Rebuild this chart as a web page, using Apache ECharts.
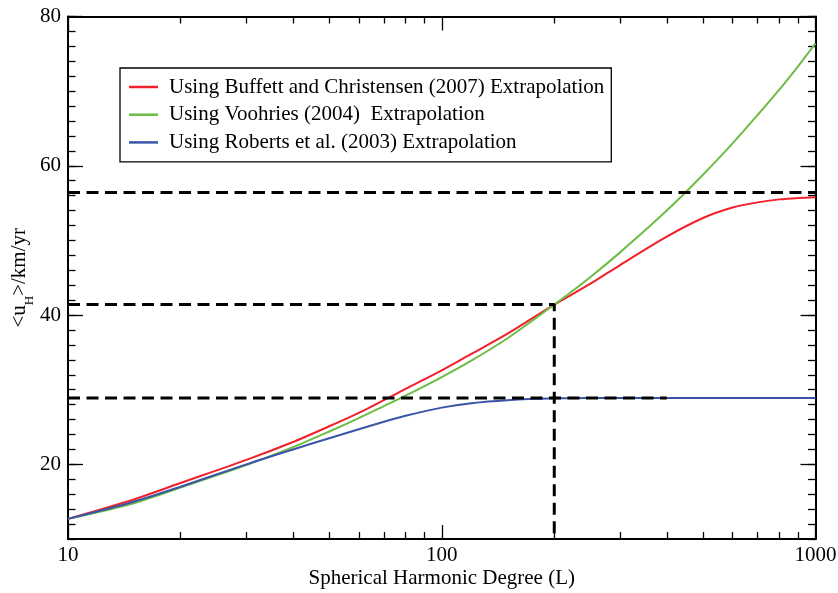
<!DOCTYPE html>
<html>
<head>
<meta charset="utf-8">
<script src="https://cdn.jsdelivr.net/npm/echarts@6/dist/echarts.min.js"></script>
<style>
  html, body { margin: 0; padding: 0; background: #fff; }
  #chart { width: 838px; height: 593px; }
</style>
</head>
<body>
<div id="chart"></div>
<script>
// spherical harmonic degree samples
const degrees = [10, 15, 20, 30, 40, 50, 60, 70, 80, 100, 120, 150, 200, 250, 300, 400, 500, 600, 700, 800, 900, 1000]

const buffett = [12.7, 15.3, 17.5, 20.6, 23.0, 25.1, 26.9, 28.6, 30.1, 32.6, 34.8, 37.5, 41.4, 44.2, 46.7, 50.5, 53.0, 54.4, 55.1, 55.5, 55.7, 55.8]
const voohries = [12.7, 14.8, 16.9, 19.9, 22.3, 24.4, 26.2, 27.8, 29.2, 31.7, 33.9, 36.9, 41.4, 45.1, 48.4, 54.0, 58.8, 63.0, 66.8, 70.2, 73.4, 76.4]
const roberts = [12.7, 15.0, 17.0, 20.0, 22.0, 23.5, 24.7, 25.7, 26.5, 27.6, 28.2, 28.6, 28.85, 28.9, 28.9, 28.9, 28.9, 28.9, 28.9, 28.9, 28.9, 28.9]

// dashed guide lines [L, u]
const guideTop = [[10, 56.43], [1000, 56.43]]
const guideMid = [[10, 41.4], [200, 41.4], [200, 10]]
const guideLow = [[10, 28.9], [400, 28.9]]

const xMajor = [10, 100, 1000]
const xMinor = [20, 30, 40, 50, 60, 70, 80, 90, 200, 300, 400, 500, 600, 700, 800, 900]
const yMajor = [20, 40, 60, 80]

const names = [
  'Using Buffett and Christensen (2007) Extrapolation',
  'Using Voohries (2004)  Extrapolation',
  'Using Roberts et al. (2003) Extrapolation'
]

const font = '"Liberation Serif", "DejaVu Serif", serif'
const zip = ys => degrees.map((d, i) => [d, ys[i]])

function xAxisOf(position, major, withLabels) {
  return {
    type: 'log', logBase: 10, min: 10, max: 1000, position,
    axisLine: { show: major, lineStyle: { color: '#000', width: 2 } },
    axisTick: { show: true, inside: true, length: major ? 14 : 7, customValues: major ? xMajor : xMinor, lineStyle: { color: '#000', width: 1.3 } },
    axisLabel: { show: withLabels, color: '#000', fontFamily: font, fontSize: 21, margin: 6, formatter: v => String(v) },
    splitLine: { show: false },
    minorTick: { show: false }
  }
}

function yAxisOf(position, major, withLabels) {
  return {
    type: 'value', min: 10, max: 80, interval: 2, position,
    axisLine: { show: major, lineStyle: { color: '#000', width: 2 } },
    axisTick: major
      ? { show: true, inside: true, length: 15, customValues: yMajor, lineStyle: { color: '#000', width: 1.3 } }
      : { show: true, inside: true, length: 7.5, lineStyle: { color: '#000', width: 1.3 } },
    axisLabel: { show: withLabels, customValues: yMajor, color: '#000', fontFamily: font, fontSize: 21, margin: 7 },
    splitLine: { show: false }
  }
}

const chart = echarts.init(document.getElementById('chart'))

const xBottom = xAxisOf('bottom', true, true)
xBottom.name = 'Spherical Harmonic Degree (L)'
xBottom.nameLocation = 'middle'
xBottom.nameGap = 28.5
xBottom.nameMoveOverlap = false
xBottom.nameTextStyle = { color: '#000', fontFamily: font, fontSize: 21 }

const yLeft = yAxisOf('left', true, true)
yLeft.name = '<u{s|H}>/km/yr'
yLeft.nameLocation = 'middle'
yLeft.nameGap = 31.5
yLeft.nameMoveOverlap = false
yLeft.nameTextStyle = {
  color: '#000', fontFamily: font, fontSize: 21, lineHeight: 34,
  rich: { s: { color: '#000', fontFamily: font, fontSize: 13, lineHeight: 14, verticalAlign: 'bottom' } }
}

const dashed = { color: '#000', width: 3, type: [12, 6.5] }
const curve = color => ({ type: 'line', smooth: 0.3, showSymbol: false, lineStyle: { color, width: 2 }, itemStyle: { color } })

const option = {
  backgroundColor: '#fff',
  animation: false,
  grid: { left: 68, right: 22.5, top: 16.5, bottom: 54, containLabel: false, outerBoundsMode: 'none' },
  legend: {
    orient: 'vertical',
    left: 120, top: 68,
    data: names,
    icon: 'rect',
    itemWidth: 29, itemHeight: 2.5,
    itemGap: 6.7,
    padding: [8.5, 7, 9, 9],
    borderColor: '#000', borderWidth: 1.3,
    textStyle: { color: '#000', fontFamily: font, fontSize: 21, lineHeight: 20, padding: [0, 0, 0, 6] }
  },
  xAxis: [xBottom, xAxisOf('bottom', false, false), xAxisOf('top', true, false), xAxisOf('top', false, false)],
  yAxis: [yLeft, yAxisOf('left', false, false), yAxisOf('right', true, false), yAxisOf('right', false, false)],
  series: [
    Object.assign(curve('#f2202a'), { name: names[0], data: zip(buffett) }),
    Object.assign(curve('#6cbd45'), { name: names[1], data: zip(voohries) }),
    Object.assign(curve('#3a55a8'), { name: names[2], data: zip(roberts) }),
    { type: 'line', data: guideTop, showSymbol: false, lineStyle: dashed, silent: true },
    { type: 'line', data: guideMid, showSymbol: false, lineStyle: dashed, silent: true },
    { type: 'line', data: guideLow, showSymbol: false, lineStyle: dashed, silent: true }
  ]
}

chart.setOption(option)
</script>
</body>
</html>
